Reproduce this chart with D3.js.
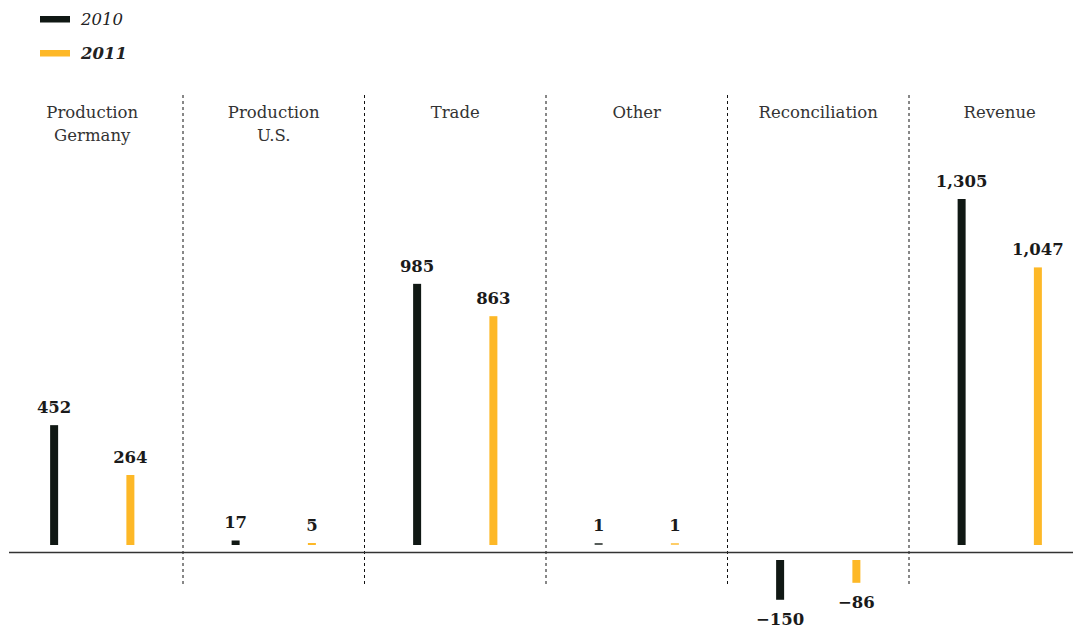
<!DOCTYPE html>
<html>
<head>
<meta charset="utf-8">
<script src="https://cdn.jsdelivr.net/npm/d3@7"></script>
<style>
  html, body { margin: 0; padding: 0; background: #fff; }
  svg { display: block; }
  text { font-family: "DejaVu Serif", serif; }
</style>
</head>
<body>
<svg id="chart" width="1073" height="628"></svg>
<script>
// Segment results per business area, two years
const categories = [["Production", "Germany"], ["Production", "U.S."], ["Trade"], ["Other"], ["Reconciliation"], ["Revenue"]];
const years = ["2010", "2011"];
const values2010 = [452, 17, 985, 1, -150, 1305];
const values2011 = [264, 5, 863, 1, -86, 1047];
const valueLabels2010 = ["452", "17", "985", "1", "−150", "1,305"];
const valueLabels2011 = ["264", "5", "863", "1", "−86", "1,047"];

const colors = { "2010": "#101814", "2011": "#fdb827" };
const series = { "2010": values2010, "2011": values2011 };
const seriesLabels = { "2010": valueLabels2010, "2011": valueLabels2011 };

const svg = d3.select("#chart");
const W = 1073;
const baseY = 552.5;   // zero line
const gap = 7.5;       // space between zero line and bar ends
const barW = 8;

// columns
const x = d3.scaleBand().domain(d3.range(categories.length)).range([1.5, 1090.5]).padding(0);
// bar positions inside a column
const xs = d3.scalePoint().domain(years).range([0, x.bandwidth()]).padding(0.69);
// bar length
const h = d3.scaleLinear().domain([0, 1305]).range([0, 346]);

// legend
const legend = svg.append("g");
years.forEach((yr, i) => {
  const g = legend.append("g").attr("transform", `translate(40, ${16 + i * 34})`);
  g.append("rect").attr("width", 30).attr("height", 6.5).attr("fill", colors[yr]);
  g.append("text").attr("x", 41).attr("y", 8.5)
    .attr("font-size", 16.5).attr("font-style", "italic")
    .attr("font-weight", i === 1 ? "bold" : "normal")
    .attr("fill", "#222").text(yr);
});

// column dividers
svg.append("g").selectAll("line")
  .data(d3.range(1, categories.length))
  .join("line")
  .attr("x1", d => x(d)).attr("x2", d => x(d))
  .attr("y1", 95).attr("y2", 586)
  .attr("stroke", "#111").attr("stroke-width", 1)
  .attr("stroke-dasharray", "3,3");

// zero line
svg.append("line")
  .attr("x1", 9).attr("x2", W).attr("y1", baseY).attr("y2", baseY)
  .attr("stroke", "#333").attr("stroke-width", 1.6);

// category titles
svg.append("g").selectAll("text")
  .data(categories)
  .join("text")
  .attr("text-anchor", "middle")
  .attr("font-size", 16.5)
  .attr("fill", "#333")
  .each(function (lines, i) {
    d3.select(this).selectAll("tspan")
      .data(lines)
      .join("tspan")
      .attr("x", x(i) + x.bandwidth() / 2)
      .attr("y", (d, j) => 118 + j * 23)
      .text(d => d);
  });

// bars and value labels
years.forEach(yr => {
  const g = svg.append("g");
  const data = series[yr].map((v, i) => ({ v, i, label: seriesLabels[yr][i] }));
  const len = d => Math.max(2, h(Math.abs(d.v)));
  g.selectAll("rect")
    .data(data)
    .join("rect")
    .attr("x", d => x(d.i) + xs(yr) - barW / 2)
    .attr("width", barW)
    .attr("y", d => d.v >= 0 ? baseY - gap - len(d) : baseY + gap)
    .attr("height", d => len(d))
    .attr("fill", colors[yr])
    .attr("opacity", d => Math.abs(d.v) < 2 ? 0.7 : 1);
  g.selectAll("text")
    .data(data)
    .join("text")
    .attr("x", d => x(d.i) + xs(yr))
    .attr("y", d => d.v >= 0 ? baseY - gap - len(d) - 12 : baseY + gap + len(d) + 25)
    .attr("text-anchor", "middle")
    .attr("font-size", 16.5)
    .attr("font-weight", "bold")
    .attr("fill", "#1a1a1a")
    .text(d => d.label);
});
</script>
</body>
</html>
